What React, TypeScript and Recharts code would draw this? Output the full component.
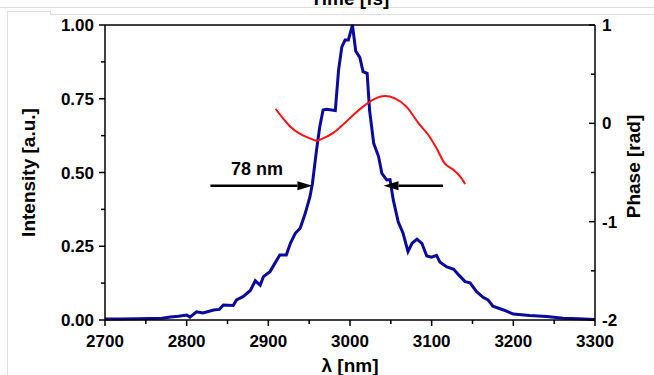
import React from 'react';
import { ComposedChart, Line, XAxis, YAxis, ReferenceLine, ReferenceDot, Label } from 'recharts';

// spectrum (blue)
const wavelengths = [
  2700, 2720, 2740, 2755, 2770, 2780, 2790, 2800, 2804, 2812, 2820, 2833, 2840, 2845, 2857,
  2861, 2869, 2878, 2884, 2890, 2894, 2902, 2908, 2914, 2922, 2927, 2933, 2939, 2945, 2951,
  2954, 2959, 2963, 2967, 2971, 2982, 2986, 2990, 2994, 2998, 3003, 3007, 3012, 3016, 3021,
  3024, 3029, 3035, 3039, 3045, 3049, 3053, 3059, 3065, 3071, 3076, 3082, 3088, 3094, 3100,
  3106, 3110, 3118, 3127, 3133, 3141, 3147, 3155, 3163, 3169, 3175, 3188, 3200, 3220, 3241,
  3261, 3280, 3300,
];
const intensities = [
  0.003, 0.003, 0.004, 0.005, 0.006, 0.01, 0.013, 0.017, 0.01, 0.028, 0.024, 0.034, 0.036, 0.051, 0.049,
  0.068, 0.079, 0.1, 0.133, 0.118, 0.147, 0.164, 0.192, 0.22, 0.22, 0.26, 0.294, 0.311, 0.36, 0.418,
  0.463, 0.576, 0.655, 0.712, 0.714, 0.71, 0.847, 0.926, 0.949, 0.949, 1.0, 0.912, 0.89, 0.842, 0.836,
  0.71, 0.599, 0.554, 0.497, 0.475, 0.476, 0.407, 0.333, 0.294, 0.232, 0.26, 0.274, 0.26, 0.217, 0.213,
  0.219, 0.197, 0.181, 0.172, 0.153, 0.13, 0.126, 0.096, 0.077, 0.068, 0.047, 0.034, 0.02, 0.015, 0.012,
  0.006, 0.004, 0.002,
];

// spectral phase (red)
const phaseWavelengths = [
  2909, 2918, 2927, 2939, 2951, 2959, 2967, 2980, 2992, 3004, 3016,
  3029, 3043, 3055, 3069, 3084, 3096, 3106, 3116, 3127, 3135, 3141,
];
const phases = [
  0.146, 0.051, -0.034, -0.108, -0.153, -0.176, -0.153, -0.095, -0.01, 0.085, 0.17,
  0.244, 0.278, 0.254, 0.17, 0.0, -0.119, -0.254, -0.407, -0.475, -0.542, -0.617,
];

const xTicks = [2700, 2750, 2800, 2850, 2900, 2950, 3000, 3050, 3100, 3150, 3200, 3250, 3300];
const intensityTicks = [0, 0.125, 0.25, 0.375, 0.5, 0.625, 0.75, 0.875, 1];
const phaseTicks = [-2, -1.5, -1, -0.5, 0, 0.5, 1];

// FWHM marker
const fwhmLevel = 0.455;
const leftArrow = [2829, 2954];
const rightArrow = [3114, 3041];
const fwhmText = '78 nm';
const fwhmTextPos = [2886, 0.492];

const FONT = '"Liberation Sans", Arial, Helvetica, sans-serif';
const BLUE = '#0a0a9e';
const RED = '#ff1010';
const GRID_GRAY = '#dedede';

const spectrum = wavelengths.map((w, i) => ({ w, v: intensities[i] }));
const phaseData = phaseWavelengths.map((w, i) => ({ w, p: phases[i] }));

const tickText = { fontSize: 17, fontWeight: 'bold' as const, fontFamily: FONT, fill: '#000' };
const titleText = { fontSize: 19, fontWeight: 'bold' as const, fontFamily: FONT, fill: '#000' };

function BottomTick(props: any) {
  const { x, y, payload } = props;
  const major = payload.value % 100 === 0;
  return (
    <g>
      <line x1={x} x2={x} y1={y} y2={y + (major ? 6 : 4)} stroke="#000" strokeWidth={1.5} />
      {major && (
        <text x={x} y={y + 27} textAnchor="middle" {...tickText}>
          {payload.value}
        </text>
      )}
    </g>
  );
}

function LeftTick(props: any) {
  const { x, y, payload } = props;
  const major = Math.abs(payload.value * 4 - Math.round(payload.value * 4)) < 1e-6;
  return (
    <g>
      <line x1={x - (major ? 6 : 4)} x2={x} y1={y} y2={y} stroke="#000" strokeWidth={1.5} />
      {major && (
        <text x={x - 11} y={y + 6} textAnchor="end" {...tickText}>
          {payload.value.toFixed(2)}
        </text>
      )}
    </g>
  );
}

function RightTick(props: any) {
  const { x, y, payload } = props;
  const major = Number.isInteger(payload.value);
  return (
    <g>
      <line x1={x - (major ? 6 : 4)} x2={x} y1={y} y2={y} stroke="#000" strokeWidth={1.5} />
      {major && (
        <text x={x + 7} y={y + 6} textAnchor="start" {...tickText}>
          {String(payload.value)}
        </text>
      )}
    </g>
  );
}

// horizontal arrow, head at (x2, y2)
function Arrow(props: any) {
  const { x1, y1, x2, y2 } = props;
  const dir = x2 > x1 ? 1 : -1;
  const len = 15;
  const half = 4.5;
  return (
    <g>
      <line x1={x1} y1={y1} x2={x2 - dir * len} y2={y2} stroke="#000" strokeWidth={2.5} />
      <polygon
        points={`${x2},${y2} ${x2 - dir * len},${y2 - half} ${x2 - dir * len},${y2 + half}`}
        fill="#000"
      />
    </g>
  );
}

function FwhmLabel(props: any) {
  const { cx, cy } = props;
  return (
    <text x={cx} y={cy} textAnchor="middle" fontSize={18} fontWeight="bold" fontFamily={FONT} fill="#000">
      {fwhmText}
    </text>
  );
}

export default function App() {
  return (
    <div style={{ position: 'absolute', left: 0, top: 0, width: 654, height: 375, background: '#fff', overflow: 'hidden' }}>
      {/* window frame lines around the figure */}
      <div style={{ position: 'absolute', left: 0, top: 7, width: 654, height: 0, borderTop: `1px solid ${GRID_GRAY}` }} />
      <div style={{ position: 'absolute', left: 8, top: 11, width: 42, height: 0, borderTop: `1px solid ${GRID_GRAY}` }} />
      <div style={{ position: 'absolute', left: 50, top: 11, width: 0, height: 3, borderLeft: `1px solid ${GRID_GRAY}` }} />
      <div style={{ position: 'absolute', left: 50, top: 14, width: 604, height: 0, borderTop: `1px solid ${GRID_GRAY}` }} />
      <div style={{ position: 'absolute', left: 7, top: 11, width: 0, height: 364, borderLeft: `1px solid ${GRID_GRAY}` }} />

      <div style={{ position: 'absolute', left: 0, top: 0 }}>
        <ComposedChart width={654} height={375} margin={{ top: 0, right: 0, bottom: 0, left: 0 }}>
          <XAxis
            type="number"
            dataKey="w"
            domain={[2700, 3300]}
            ticks={xTicks}
            interval={0}
            height={55}
            tickSize={0}
            tickMargin={0}
            tick={BottomTick}
            axisLine={{ stroke: '#000', strokeWidth: 1.5 }}
            allowDataOverflow
          >
            <Label value="λ [nm]" position="center" dy={18} {...titleText} />
          </XAxis>
          <XAxis
            xAxisId="top"
            orientation="top"
            type="number"
            dataKey="w"
            domain={[2700, 3300]}
            height={25}
            tick={false}
            tickLine={false}
            axisLine={{ stroke: '#000', strokeWidth: 1.5 }}
          >
            <Label value="Time [fs]" position="center" dy={-14.5} {...titleText} />
          </XAxis>
          <YAxis
            yAxisId="left"
            type="number"
            domain={[0, 1]}
            ticks={intensityTicks}
            interval={0}
            width={105}
            tickSize={0}
            tickMargin={0}
            tick={LeftTick}
            axisLine={{ stroke: '#000', strokeWidth: 1.5 }}
          >
            <Label value="Intensity [a.u.]" position="center" angle={-90} dx={-24} {...titleText} />
          </YAxis>
          <YAxis
            yAxisId="right"
            orientation="right"
            type="number"
            domain={[-2, 1]}
            ticks={phaseTicks}
            interval={0}
            width={59}
            tickSize={0}
            tickMargin={0}
            tick={RightTick}
            axisLine={{ stroke: '#000', strokeWidth: 1.5 }}
          >
            <Label value="Phase [rad]" position="center" angle={-90} dx={9} dy={-6} {...titleText} />
          </YAxis>

          <Line
            yAxisId="left"
            data={spectrum}
            dataKey="v"
            type="linear"
            stroke={BLUE}
            strokeWidth={3}
            dot={false}
            activeDot={false}
            isAnimationActive={false}
          />
          <Line
            yAxisId="right"
            data={phaseData}
            dataKey="p"
            type="monotone"
            stroke={RED}
            strokeWidth={2}
            dot={false}
            activeDot={false}
            isAnimationActive={false}
          />

          <ReferenceLine
            yAxisId="left"
            segment={[
              { x: leftArrow[0], y: fwhmLevel },
              { x: leftArrow[1], y: fwhmLevel },
            ]}
            shape={Arrow}
          />
          <ReferenceLine
            yAxisId="left"
            segment={[
              { x: rightArrow[0], y: fwhmLevel },
              { x: rightArrow[1], y: fwhmLevel },
            ]}
            shape={Arrow}
          />
          <ReferenceDot yAxisId="left" x={fwhmTextPos[0]} y={fwhmTextPos[1]} r={0} shape={FwhmLabel} />
        </ComposedChart>
      </div>
    </div>
  );
}
